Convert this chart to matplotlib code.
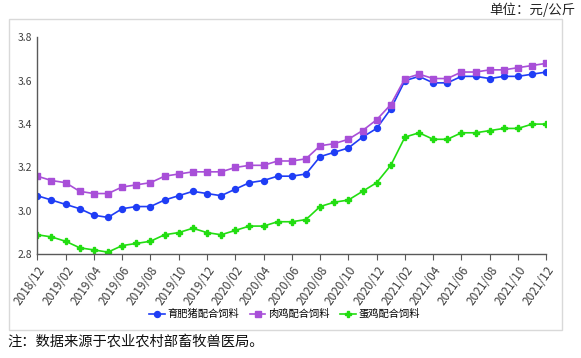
import matplotlib.pyplot as plt
from matplotlib.patches import Rectangle

plt.rcParams['font.family'] = ['Noto Sans CJK SC', 'DejaVu Sans']

months = []
for y in range(2018, 2022):
    for m in range(1, 13):
        if (y, m) >= (2018, 12):
            months.append(f"{y}/{m:02d}")

pig = [3.07, 3.05, 3.03, 3.01, 2.98, 2.97, 3.01, 3.02, 3.02, 3.05, 3.07, 3.09,
       3.08, 3.07, 3.10, 3.13, 3.14, 3.16, 3.16, 3.17, 3.25, 3.27, 3.29, 3.34, 3.38,
       3.47, 3.60, 3.62, 3.59, 3.59, 3.62, 3.62, 3.61, 3.62, 3.62, 3.63, 3.64]
broiler = [3.16, 3.14, 3.13, 3.09, 3.08, 3.08, 3.11, 3.12, 3.13, 3.16, 3.17, 3.18,
           3.18, 3.18, 3.20, 3.21, 3.21, 3.23, 3.23, 3.24, 3.30, 3.31, 3.33, 3.37, 3.42,
           3.49, 3.61, 3.63, 3.61, 3.61, 3.64, 3.64, 3.65, 3.65, 3.66, 3.67, 3.68]
layer = [2.89, 2.88, 2.86, 2.83, 2.82, 2.81, 2.84, 2.85, 2.86, 2.89, 2.90, 2.92,
         2.90, 2.89, 2.91, 2.93, 2.93, 2.95, 2.95, 2.96, 3.02, 3.04, 3.05, 3.09, 3.13,
         3.21, 3.34, 3.36, 3.33, 3.33, 3.36, 3.36, 3.37, 3.38, 3.38, 3.40, 3.40]
names = ["育肥猪配合饲料", "肉鸡配合饲料", "蛋鸡配合饲料"]

fig = plt.figure(figsize=(5.81, 3.58), dpi=100)
fig.patches.append(Rectangle((0.0155, 0.0782), 0.9513, 0.8687, transform=fig.transFigure,
                             fill=False, edgecolor='#d9d9d9', linewidth=1))
ax = fig.add_axes([0.0642, 0.2897, 0.8761, 0.6061])

x = list(range(len(months)))
ax.plot(x, pig, color='#1f3df5', marker='o', markersize=4.3, linewidth=1.2, label=names[0])
ax.plot(x, broiler, color='#a84fd8', marker='s', markersize=3.8, linewidth=1.2, label=names[1])
ax.plot(x, layer, color='#22dd11', marker='P', markersize=4.3, linewidth=1.2, label=names[2])

ax.set_ylim(2.8, 3.8)
ax.set_xlim(0, len(months) - 1)
ax.set_yticks([2.8, 3.0, 3.2, 3.4, 3.6, 3.8])
ax.set_yticklabels(["2.8", "3.0", "3.2", "3.4", "3.6", "3.8"])
ax.set_xticks(x[::2])
ax.set_xticklabels(months[::2], rotation=55, ha='right', rotation_mode='anchor')
ax.tick_params(axis='y', length=0, labelsize=7.5, labelcolor='#404040', pad=4)
ax.tick_params(axis='x', length=4, width=0.8, color='#595959', labelsize=8.5,
               labelcolor='#404040', pad=3)
for s in ['top', 'right']:
    ax.spines[s].set_visible(False)
for s in ['left', 'bottom']:
    ax.spines[s].set_color('#595959')
    ax.spines[s].set_linewidth(1)

fig.legend(loc='center', bbox_to_anchor=(0.49, 0.123), ncol=3, frameon=False,
           fontsize=7.4, handlelength=1.5, handletextpad=0.3, columnspacing=1.0)

fig.text(0.99, 0.972, "单位：元/公斤", ha='right', va='center', fontsize=9.7, color='#222222')
fig.text(0.013, 0.045, "注：数据来源于农业农村部畜牧兽医局。", ha='left', va='center',
         fontsize=10.3, color='#111111')

fig.savefig("out.png", dpi=100)
